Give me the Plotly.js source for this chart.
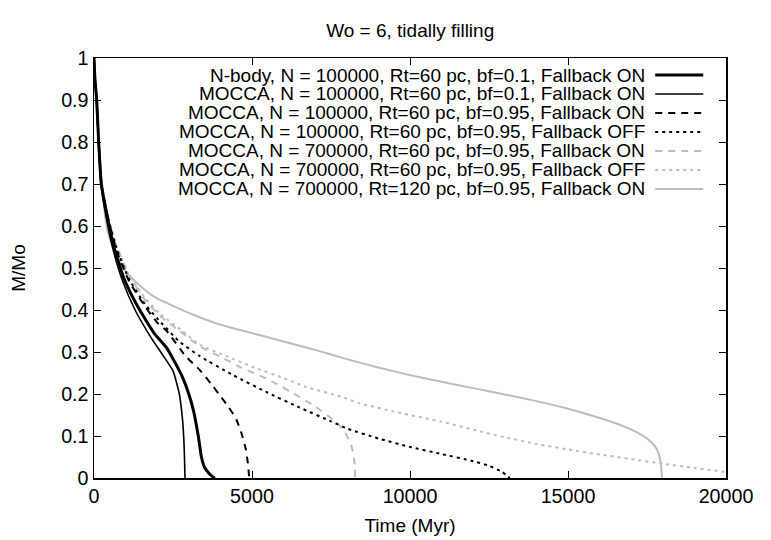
<!DOCTYPE html>
<html>
<head>
<meta charset="utf-8">
<script src="https://cdn.plot.ly/plotly-3.0.1.min.js"></script>
<style>
  html, body { margin: 0; padding: 0; background: #fff; }
  #massPlot { width: 771px; height: 540px; }
</style>
</head>
<body>
<div id="massPlot"></div>
<script>
// Time (Myr) and M/Mo for each run
const nbodyT = [0, 30, 85, 148, 232, 400, 630, 950, 1370, 1900, 2300, 2600, 2800, 3000, 3150, 3300, 3400, 3500, 3650, 3750, 3830];
const nbodyM = [1, 0.95, 0.9, 0.8, 0.7, 0.63, 0.55, 0.475, 0.41, 0.345, 0.31, 0.27, 0.24, 0.2, 0.16, 0.1, 0.05, 0.025, 0.01, 0.003, 0];

const moccaT = [0, 30, 80, 140, 220, 400, 600, 900, 1300, 1800, 2200, 2500, 2700, 2800, 2850, 2870, 2880];
const moccaM = [1, 0.95, 0.9, 0.8, 0.7, 0.615, 0.545, 0.47, 0.4, 0.335, 0.29, 0.255, 0.2, 0.14, 0.08, 0.03, 0];

const moccaBfT = [0, 30, 85, 150, 235, 420, 700, 1100, 1600, 2000, 2300, 2900, 3350, 3700, 3950, 4250, 4500, 4670, 4800, 4870, 4900, 4910];
const moccaBfM = [1, 0.95, 0.9, 0.8, 0.7, 0.625, 0.545, 0.47, 0.41, 0.37, 0.35, 0.29, 0.257, 0.225, 0.2, 0.17, 0.14, 0.106, 0.07, 0.035, 0.01, 0];

const moccaOffT = [0, 30, 85, 150, 235, 420, 700, 1100, 1600, 2000, 2700, 3350, 4400, 5500, 6500, 7500, 8000, 9000, 10000, 11000, 12000, 12500, 12900, 13100, 13150];
const moccaOffM = [1, 0.95, 0.9, 0.8, 0.7, 0.625, 0.55, 0.475, 0.415, 0.38, 0.325, 0.29, 0.245, 0.203, 0.168, 0.135, 0.118, 0.094, 0.074, 0.057, 0.04, 0.029, 0.015, 0.004, 0];

const big60OnT = [0, 30, 85, 150, 240, 420, 700, 1100, 1600, 2100, 2800, 3350, 4000, 4600, 5450, 6300, 7000, 7650, 7950, 8150, 8230, 8260, 8265];
const big60OnM = [1, 0.95, 0.9, 0.8, 0.7, 0.63, 0.555, 0.485, 0.425, 0.385, 0.345, 0.313, 0.289, 0.265, 0.237, 0.202, 0.17, 0.134, 0.108, 0.075, 0.045, 0.02, 0];

const big60OffT = [0, 30, 85, 150, 240, 420, 700, 1100, 1600, 2100, 2800, 3350, 4200, 5000, 6000, 6700, 7800, 8400, 9500, 11000, 12000, 13000, 14000, 15000, 16000, 17000, 18000, 19000, 20000];
const big60OffM = [1, 0.95, 0.9, 0.8, 0.7, 0.63, 0.555, 0.485, 0.43, 0.39, 0.35, 0.317, 0.29, 0.265, 0.238, 0.217, 0.194, 0.178, 0.158, 0.134, 0.115, 0.097, 0.081, 0.068, 0.056, 0.045, 0.034, 0.024, 0.014];

const big120T = [0, 25, 60, 140, 230, 420, 700, 1055, 1500, 1900, 2500, 3165, 4000, 5000, 6000, 7000, 8000, 9000, 10000, 11000, 12000, 13000, 14000, 15000, 16000, 16700, 17200, 17500, 17750, 17870, 17930, 17960, 17970];
const big120M = [1, 0.96, 0.92, 0.8, 0.71, 0.59, 0.53, 0.487, 0.455, 0.432, 0.41, 0.388, 0.365, 0.345, 0.325, 0.305, 0.283, 0.263, 0.245, 0.229, 0.214, 0.199, 0.183, 0.165, 0.143, 0.125, 0.108, 0.094, 0.076, 0.058, 0.038, 0.018, 0];

const runLabels = [
    "N-body, N = 100000, Rt=60 pc, bf=0.1, Fallback ON",
    "MOCCA, N = 100000, Rt=60 pc, bf=0.1, Fallback ON",
    "MOCCA, N = 100000, Rt=60 pc, bf=0.95, Fallback ON",
    "MOCCA, N = 100000, Rt=60 pc, bf=0.95, Fallback OFF",
    "MOCCA, N = 700000, Rt=60 pc, bf=0.95, Fallback ON",
    "MOCCA, N = 700000, Rt=60 pc, bf=0.95, Fallback OFF",
    "MOCCA, N = 700000, Rt=120 pc, bf=0.95, Fallback ON"
];

const xTicks = [0, 5000, 10000, 15000, 20000];
const yTicks = [0, 0.1, 0.2, 0.3, 0.4, 0.5, 0.6, 0.7, 0.8, 0.9, 1];

const FONT = "Liberation Sans, Arial, sans-serif";
const GRAY = "#bdbdbd";

// line style per run, same order as runLabels
const styles = [
    { color: "#000", width: 3, dash: "solid" },
    { color: "#000", width: 1.6, dash: "solid" },
    { color: "#000", width: 2, dash: "7px,6px" },
    { color: "#000", width: 2, dash: "3px,4px" },
    { color: GRAY, width: 2, dash: "7px,6px" },
    { color: GRAY, width: 2, dash: "3px,4px" },
    { color: GRAY, width: 2, dash: "solid" }
];

function buildTraces() {
    const series = [
        [nbodyT, nbodyM], [moccaT, moccaM], [moccaBfT, moccaBfM], [moccaOffT, moccaOffM],
        [big60OnT, big60OnM], [big60OffT, big60OffM], [big120T, big120M]
    ];
    // draw grey ones first so black stays on top
    const order = [6, 5, 4, 3, 2, 1, 0];
    return order.map((i) => ({
        x: series[i][0],
        y: series[i][1],
        mode: "lines",
        type: "scatter",
        name: runLabels[i],
        showlegend: false,
        line: Object.assign({ shape: "spline", smoothing: 0.5 }, styles[i])
    }));
}

// gnuplot style key: right aligned text, sample line after it
function buildKey() {
    const annotations = [];
    const shapes = [];
    const top = 0.9595, step = 0.0452;
    runLabels.forEach((label, i) => {
        const y = top - i * step;
        annotations.push({
            xref: "paper", yref: "paper", x: 0.875, y: y,
            xanchor: "right", yanchor: "middle", showarrow: false,
            text: label, font: { family: FONT, size: 19, color: "#000" }
        });
        shapes.push({
            type: "line", xref: "paper", yref: "paper",
            x0: 0.888, x1: 0.964, y0: y, y1: y,
            line: styles[i]
        });
    });
    return { annotations, shapes };
}

function plotMass() {
    const key = buildKey();
    const axisCommon = {
        showline: true, linecolor: "#000", linewidth: 1.5, mirror: "ticks",
        ticks: "inside", ticklen: 7, tickcolor: "#000", tickwidth: 1,
        showgrid: false, zeroline: false,
        tickfont: { family: FONT, size: 19.7, color: "#000" }
    };
    const layout = {
        width: 771, height: 540,
        margin: { l: 94, r: 45, t: 58, b: 62 },
        paper_bgcolor: "#fff", plot_bgcolor: "#fff",
        title: {
            text: "Wo = 6, tidally filling",
            font: { family: FONT, size: 19, color: "#000" },
            x: 0.532, xanchor: "center", y: 0.944, yanchor: "middle"
        },
        xaxis: Object.assign({}, axisCommon, {
            range: [0, 20000], tickvals: xTicks, ticktext: xTicks.map(String),
            title: { text: "Time (Myr)", font: { family: FONT, size: 19, color: "#000" }, standoff: 12 }
        }),
        yaxis: Object.assign({}, axisCommon, {
            range: [0, 1], tickvals: yTicks, ticktext: yTicks.map(String),
            title: { text: "M/Mo", font: { family: FONT, size: 19, color: "#000" }, standoff: 30 }
        }),
        annotations: key.annotations,
        shapes: key.shapes
    };
    Plotly.newPlot("massPlot", buildTraces(), layout, { staticPlot: true });
}

window.addEventListener("load", plotMass);
</script>
</body>
</html>
